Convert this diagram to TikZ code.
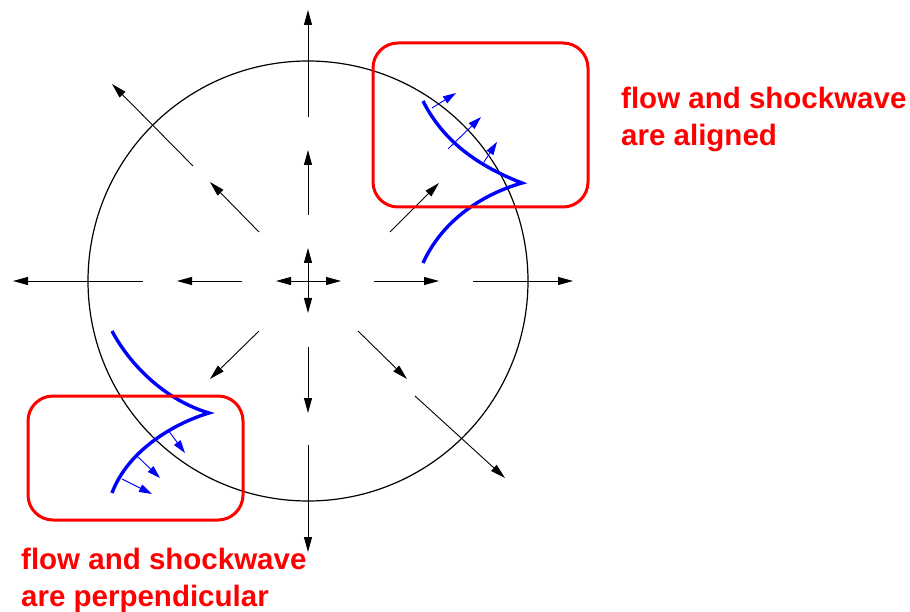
\documentclass[tikz,border=0pt]{standalone}
\usepackage{fontspec}
\setmainfont{Liberation Sans}
\usetikzlibrary{arrows.meta,calc}
\tikzset{
  flow/.style={draw=black,line width=0.9pt,-{Triangle[length=15pt,width=8pt]}},
  shock/.style={draw=blue,line width=3.4pt,line cap=butt,line join=miter},
  normal/.style={draw=blue,line width=0.9pt,-{Triangle[length=13pt,width=8pt]}},
  zone/.style={draw=red,line width=3pt,rounded corners=25pt},
  note/.style={text=red,font=\bfseries\fontsize{29.5}{29.5}\selectfont,anchor=base west,inner sep=0pt},
}
\begin{document}
\begin{tikzpicture}[x=1pt,y=-1pt]
\useasboundingbox (0,0) rectangle (910,612);
\coordinate (c) at (308,281);
% circle
\draw[line width=1.2pt] (c) circle[radius=220];
% central cross
\foreach \p in {(276,281),(341,281),(308,248),(308,313)}
  \draw[flow] (c) -- \p;
% inner ring
\draw[flow] (242,281) -- (177,281);
\draw[flow] (374,281) -- (439,281);
\draw[flow] (308,215) -- (308,150);
\draw[flow] (308,347) -- (308,413);
\draw[flow] (259,232) -- (210,182);
\draw[flow] (390,232) -- (439,183);
\draw[flow] (259,331) -- (210,379);
\draw[flow] (358,331) -- (407,379);
% outer ring
\draw[flow] (143,281) -- (13,281);
\draw[flow] (473,281) -- (573,281);
\draw[flow] (308,117) -- (308,10);
\draw[flow] (308,445) -- (308,552);
\draw[flow] (193,166) -- (112,84);
\draw[flow] (415,396) -- (505,478);
% shock top right
\coordinate (tr1) at (423,101);
\coordinate (trtip) at (522,183);
\coordinate (tr2) at (423,263);
\draw[shock] (tr1) .. controls (440,135) and (470,163) .. (trtip)
  .. controls (490,192) and (445,215) .. (tr2);
\draw[normal] (432,108) -- (456,93);
\draw[normal] (448,149) -- (481,117);
\draw[normal] (482,165) -- (497,142);
% shock bottom left
\coordinate (bl1) at (112,331);
\coordinate (bltip) at (209,413);
\coordinate (bl2) at (112,493);
\draw[shock] (bl1) .. controls (130,365) and (165,400) .. (bltip)
  .. controls (175,423) and (128,450) .. (bl2);
\draw[normal] (168,430) -- (185,453);
\draw[normal] (137,456) -- (160,478);
\draw[normal] (122,479) -- (152,494);
% zones
\draw[zone] (373,43) rectangle (588,207);
\draw[zone] (28,396) rectangle (243,520);
% notes
\node[note] (a1) at (621,109) {flow and shockwave};
\node[note] (a2) at (621,146) {are aligned};
\node[note] (p1) at (21,569) {flow and shockwave};
\node[note] (p2) at (21,606) {are perpendicular};
\end{tikzpicture}
\end{document}
